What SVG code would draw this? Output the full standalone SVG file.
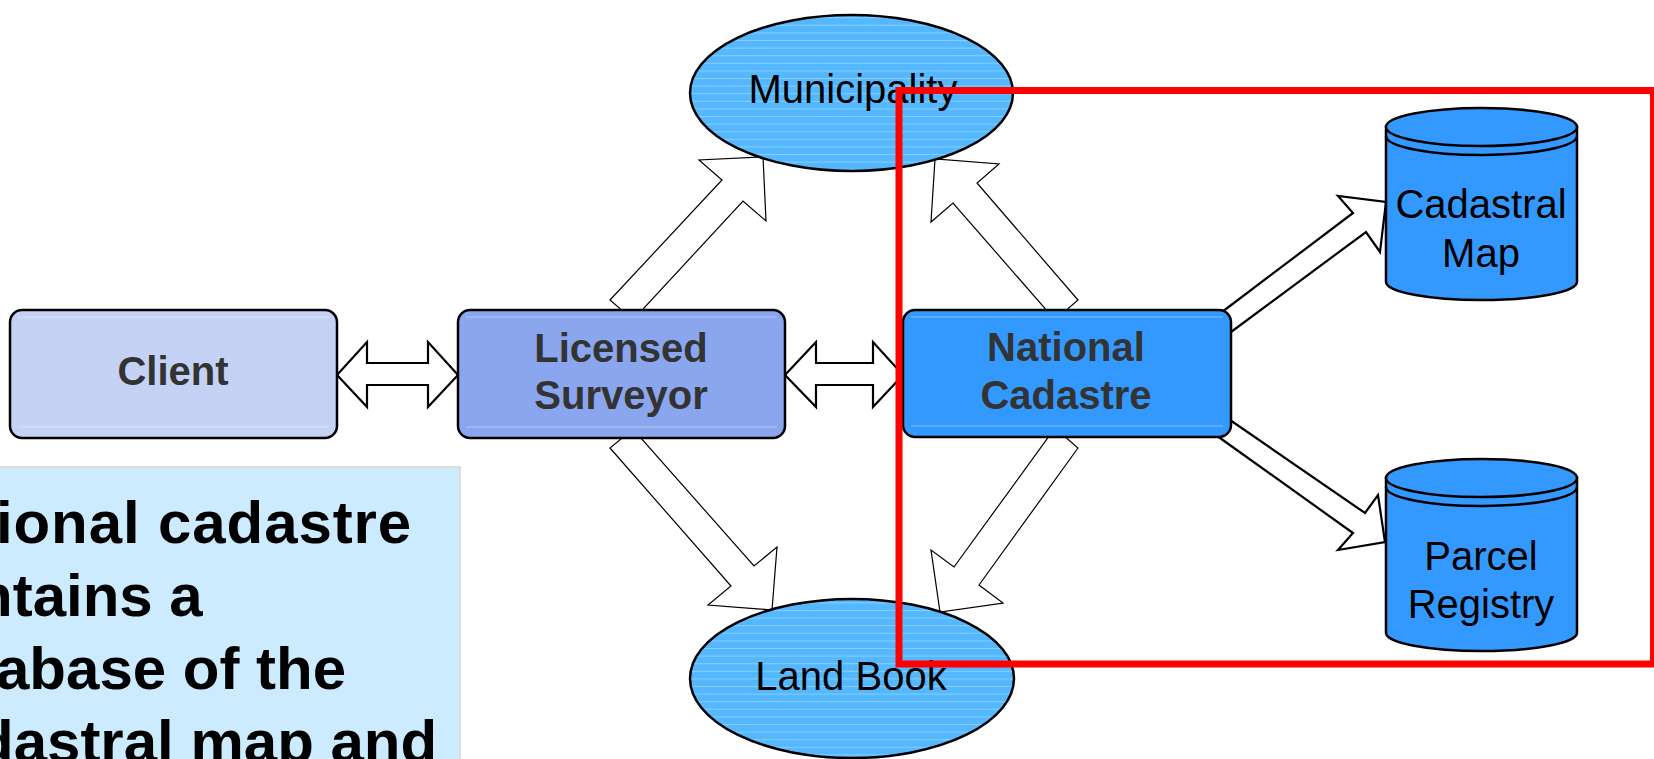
<svg xmlns="http://www.w3.org/2000/svg" width="1654" height="759" viewBox="0 0 1654 759">
<defs>
<pattern id="stripes" patternUnits="userSpaceOnUse" width="20" height="7.6" y="2">
<rect width="20" height="7.6" fill="#55B8FF"/>
<rect y="0" width="20" height="1" fill="#86CEFF"/>
</pattern>
</defs>
<style>
.box{stroke:#000;stroke-width:2.5}
.hl{stroke:#FFFFFF;stroke-opacity:0.25;stroke-width:1.5}
.btxt{font-family:"Liberation Sans",Arial,sans-serif;font-size:40px;font-weight:bold;fill:#333333;text-anchor:middle}
.rtxt{font-family:"Liberation Sans",Arial,sans-serif;font-size:40px;fill:#000;text-anchor:middle}
.ell{fill:url(#stripes);stroke:#000;stroke-width:2.5}
.cyl{fill:#3399FF;stroke:#000;stroke-width:2.5}
.thin{fill:#fff;stroke:#000;stroke-width:1.2;stroke-linejoin:miter}
.thick{fill:#fff;stroke:#000;stroke-width:2.2;stroke-linejoin:miter}
.para{font-family:"Liberation Sans",Arial,sans-serif;font-size:60px;font-weight:bold;fill:#000}
</style>
<rect width="1654" height="759" fill="#fff"/>

<g id="connectors">
<polygon class="thick" points="337,375 367,342 367,363 428,363 428,342 458,375 428,407 428,385 367,385 367,407"/>
<polygon class="thick" points="785,375 816,342 816,363 873,363 873,342 903,375 873,407 873,385 816,385 816,407"/>
<polygon class="thin" points="610,300 722,180 699,160 763,157 766,221 743,201 633,320"/>
<polygon class="thin" points="1078,300 977,183 999,164 935,159 931,222 953,203 1055,320"/>
<polygon class="thin" points="610,448 731,586 708,605 772,610 777,547 754,566 633,429"/>
<polygon class="thin" points="1078,448 979,585 1003,603 940,612 931,550 954,567 1055,428"/>
<polygon class="thick" points="1210,321 1222,312 1353,213 1338,196 1386,202 1380,252 1366,232 1231,332 1219,341"/>
<polygon class="thick" points="1218,411 1230,420 1365,513 1378,495 1385,542 1338,550 1353,533 1220,438 1208,429"/>
</g>

<g id="client">
<rect class="box" x="10" y="310" width="327" height="128" rx="12" fill="#C5D2F5"/>
<line class="hl" x1="18" y1="317" x2="329" y2="317"/>
<line class="hl" x1="18" y1="427" x2="329" y2="427"/>
<text class="btxt" x="173" y="385">Client</text>
</g>

<g id="surveyor">
<rect class="box" x="458" y="310" width="327" height="128" rx="12" fill="#8AA6EE"/>
<line class="hl" x1="466" y1="317" x2="777" y2="317"/>
<line class="hl" x1="466" y1="427" x2="777" y2="427"/>
<text class="btxt" x="621" y="362">Licensed</text>
<text class="btxt" x="621" y="409">Surveyor</text>
</g>

<g id="national">
<rect class="box" x="903" y="310" width="328" height="127" rx="12" fill="#3399FF"/>
<line class="hl" x1="911" y1="317" x2="1223" y2="317"/>
<line class="hl" x1="911" y1="426" x2="1223" y2="426"/>
<text class="btxt" x="1066" y="361">National</text>
<text class="btxt" x="1066" y="409">Cadastre</text>
</g>

<g id="municipality">
<ellipse class="ell" cx="851.5" cy="93" rx="161.5" ry="78"/>
<text class="rtxt" x="853" y="103">Municipality</text>
</g>

<g id="landbook">
<ellipse class="ell" cx="852" cy="678.5" rx="162" ry="79.5"/>
<text class="rtxt" x="851" y="690">Land Book</text>
</g>

<g id="cadastral-map">
<path class="cyl" d="M1386,127 L1386,282 A95.5,18 0 0 0 1577,282 L1577,127 Z"/>
<ellipse class="cyl" cx="1481.5" cy="127" rx="95.5" ry="19"/>
<path d="M1386,136 A95.5,19 0 0 0 1577,136" fill="none" stroke="#000" stroke-width="2.5"/>
<text class="rtxt" x="1481" y="218">Cadastral</text>
<text class="rtxt" x="1481" y="267">Map</text>
</g>

<g id="parcel-registry">
<path class="cyl" d="M1386,478 L1386,633 A95.5,18 0 0 0 1577,633 L1577,478 Z"/>
<ellipse class="cyl" cx="1481.5" cy="478" rx="95.5" ry="19"/>
<path d="M1386,487 A95.5,19 0 0 0 1577,487" fill="none" stroke="#000" stroke-width="2.5"/>
<text class="rtxt" x="1481" y="570">Parcel</text>
<text class="rtxt" x="1481" y="618">Registry</text>
</g>

<g id="textbox">
<rect x="-2" y="467" width="462" height="300" fill="#CCEBFF" stroke="#DDDDDD" stroke-width="2"/>
<text class="para" x="-4" y="543" letter-spacing="0.9">ional cadastre</text>
<text class="para" x="-24" y="616">ntains a</text>
<text class="para" x="-4" y="689">abase of the</text>
<text class="para" x="-23" y="762">dastral map and</text>
</g>

<g id="highlight">
<rect x="899" y="90.5" width="754.5" height="573.5" fill="none" stroke="#FF0000" stroke-width="7"/>
</g>
</svg>
